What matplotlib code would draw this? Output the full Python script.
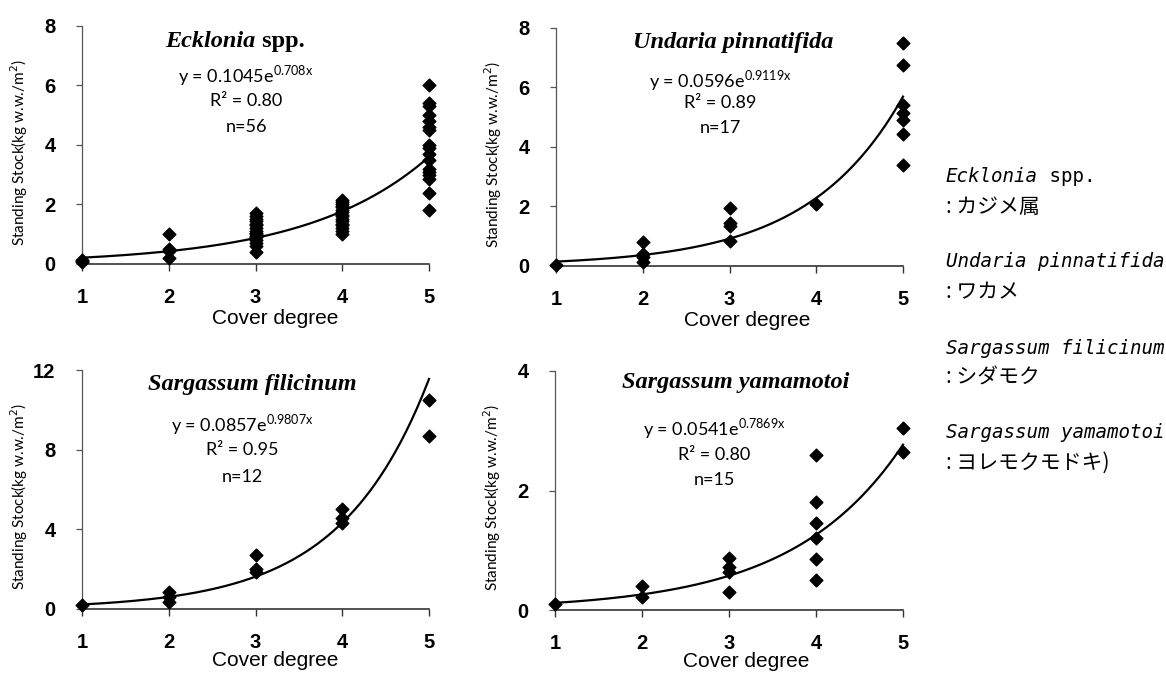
import numpy as np
import matplotlib.pyplot as plt

# cover degree (x) and standing stock kg w.w./m2 (y)
ecklonia_x = [1] * 3 + [2] * 4 + [3] * 16 + [4] * 16 + [5] * 17
ecklonia_y = [0.08, 0.1, 0.12,
              1.0, 0.5, 0.45, 0.2,
              1.7, 1.6, 1.5, 1.45, 1.35, 1.3, 1.2, 1.1, 1.05, 1.0, 0.95, 0.9, 0.8, 0.7, 0.6, 0.4,
              2.15, 2.1, 2.0, 1.95, 1.9, 1.8, 1.75, 1.65, 1.6, 1.5, 1.45, 1.35, 1.3, 1.2, 1.1, 1.0,
              6.0, 5.4, 5.3, 5.0, 4.8, 4.6, 4.5, 4.0, 3.9, 3.7, 3.5, 3.2, 3.1, 3.0, 2.85, 2.4, 1.8]

undaria_x = [1] + [2] * 4 + [3] * 4 + [4] + [5] * 7
undaria_y = [0.05,
             0.8, 0.4, 0.3, 0.15,
             1.95, 1.45, 1.35, 0.85,
             2.1,
             7.5, 6.75, 5.4, 5.15, 4.9, 4.45, 3.4]

filicinum_x = [1] + [2] * 3 + [3] * 3 + [4] * 3 + [5] * 2
filicinum_y = [0.2,
               0.85, 0.6, 0.35,
               2.7, 2.0, 1.85,
               5.0, 4.55, 4.3,
               10.5, 8.7]

yamamotoi_x = [1] + [2] * 2 + [3] * 4 + [4] * 6 + [5] * 2
yamamotoi_y = [0.1,
               0.4, 0.22,
               0.87, 0.72, 0.64, 0.3,
               2.6, 1.8, 1.45, 1.2, 0.85, 0.5,
               3.05, 2.65]

# exponential fits y = a * exp(b * x)
fit_a = [0.1045, 0.0596, 0.0857, 0.0541]
fit_b = [0.708, 0.9119, 0.9807, 0.7869]
fit_a_txt = ["0.1045", "0.0596", "0.0857", "0.0541"]
fit_b_txt = ["0.708", "0.9119", "0.9807", "0.7869"]
r2_txt = ["0.80", "0.89", "0.95", "0.80"]
n_txt = ["56", "17", "12", "15"]

y_ticks = [[0, 2, 4, 6, 8], [0, 2, 4, 6, 8], [0, 4, 8, 12], [0, 2, 4]]
x_ticks = [1, 2, 3, 4, 5]

titles = [("Ecklonia", " spp."), ("Undaria pinnatifida", ""),
          ("Sargassum filicinum", ""), ("Sargassum yamamotoi", "")]
side_latin = [("Ecklonia", " spp."), ("Undaria pinnatifida", ""),
              ("Sargassum filicinum", ""), ("Sargassum yamamotoi", "")]
side_jp = [": カジメ属", ": ワカメ", ": シダモク", ": ヨレモクモドキ)"]

W, H = 1166, 673
fig = plt.figure(figsize=(W / 100, H / 100), dpi=100)


def box(l, r, b, t):
    return [l / W, 1 - b / H, (r - l) / W, (b - t) / H]


axes_px = [(82, 429, 264, 26), (556, 903, 266, 28),
           (82, 429, 609, 370), (555, 903, 610, 371)]
title_pos = [(0.42, 0.98), (0.51, 0.985), (0.49, 0.985), (0.52, 0.995)]
eq_pos = [(0.473, 0.79, 0.685, 0.575), (0.473, 0.78, 0.685, 0.58),
          (0.461, 0.77, 0.665, 0.552), (0.457, 0.76, 0.65, 0.544)]
xlab_x = [0.556, 0.55, 0.556, 0.55]
xlab_y = [-0.19, -0.19, -0.176, -0.176]

data = [(ecklonia_x, ecklonia_y), (undaria_x, undaria_y),
        (filicinum_x, filicinum_y), (yamamotoi_x, yamamotoi_y)]

tick_font = ["Liberation Sans Narrow", "Liberation Sans", "DejaVu Sans"]
eq_font = ["Lato", "DejaVu Sans"]

for i in range(4):
    ax = fig.add_axes(box(*axes_px[i]))
    xs, ys = data[i]
    ax.scatter(xs, ys, marker="D", s=42, color="black", zorder=3, clip_on=False)
    xx = np.linspace(1, 5, 200)
    ax.plot(xx, fit_a[i] * np.exp(fit_b[i] * xx), color="black", lw=1.6, zorder=2, clip_on=False)

    ax.set_xlim(1, 5)
    ax.set_ylim(0, y_ticks[i][-1])
    ax.set_xticks(x_ticks)
    ax.set_yticks(y_ticks[i])
    for s in ["top", "right"]:
        ax.spines[s].set_visible(False)
    ax.spines["left"].set_color("#555555")
    ax.spines["left"].set_linewidth(0.9)
    ax.spines["bottom"].set_color("#333333")
    ax.spines["bottom"].set_linewidth(1.2)
    ax.tick_params(axis="y", length=4, width=0.9, color="#555555", pad=15)
    ax.tick_params(axis="x", length=5, width=1.0, color="#333333", pad=12)
    for lab in ax.get_xticklabels() + ax.get_yticklabels():
        lab.set_fontfamily(tick_font)
        lab.set_fontweight("bold")
        lab.set_fontsize(14.5)

    ax.set_ylabel("Standing Stock(kg w.w./m$^2$)", fontsize=11, family=eq_font)
    ax.yaxis.set_label_coords(-0.15, 0.47)
    ax.set_xlabel("Cover degree", fontsize=15, family=tick_font)
    ax.xaxis.set_label_coords(xlab_x[i], xlab_y[i])

    it, rest = titles[i]
    tx, ty = title_pos[i]
    t = ax.text(tx, ty, it, transform=ax.transAxes, ha="center", va="top",
                family="Liberation Serif", style="italic", weight="bold", fontsize=17.5)
    if rest:
        t.set_ha("right")
        t.set_x(tx + 0.08)
        ax.annotate(rest, xy=(1, 0), xycoords=t, va="bottom", ha="left",
                    family="Liberation Serif", weight="bold", fontsize=17.5)

    cx, y1, y2, y3 = eq_pos[i]
    ax.text(cx, y1, "y = " + fit_a_txt[i] + "e$^{\\mathregular{" + fit_b_txt[i] + "x}}$",
            transform=ax.transAxes, ha="center", va="center", fontsize=13, family=eq_font)
    ax.text(cx, y2, "R² = " + r2_txt[i], transform=ax.transAxes, ha="center", va="center",
            fontsize=13, family=eq_font)
    ax.text(cx, y3, "n=" + n_txt[i], transform=ax.transAxes, ha="center", va="center",
            fontsize=13, family=eq_font)

# species names on the right
side_y = [177, 262, 348, 433]
for i in range(4):
    y = 1 - side_y[i] / H
    t = fig.text(946 / W, y, side_latin[i][0], ha="left", va="center",
                 family="DejaVu Sans Mono", style="italic", fontsize=13.8)
    if side_latin[i][1]:
        plt.annotate(side_latin[i][1], xy=(1, 0), xycoords=t, va="bottom", ha="left",
                     family="DejaVu Sans Mono", fontsize=13.8)
    fig.text(946 / W, 1 - (side_y[i] + 30) / H, side_jp[i], ha="left", va="center",
             family=["Noto Sans CJK JP", "DejaVu Sans"], fontsize=15)

fig.savefig("out.png", dpi=100)
